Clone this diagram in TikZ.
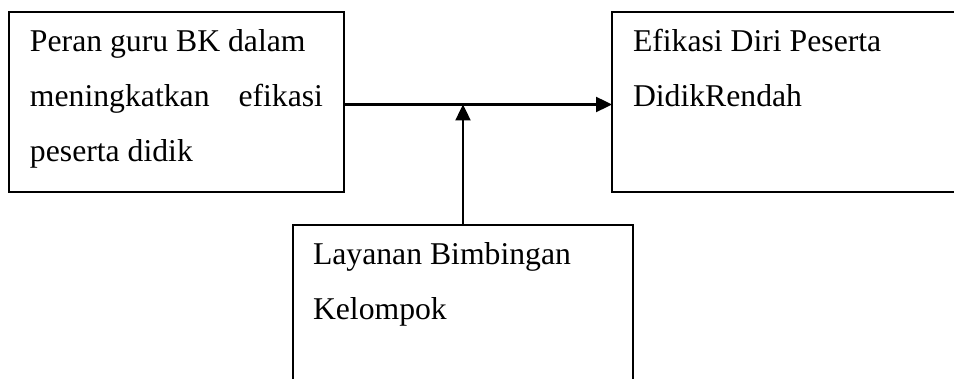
\documentclass[tikz,border=0pt]{standalone}
\usepackage{fontspec}
\setmainfont{Liberation Serif}
\usetikzlibrary{arrows.meta}
\begin{document}
\begin{tikzpicture}[x=1pt,y=-1pt,
  box/.style={draw=black,line width=1.8pt,rectangle,inner sep=0pt,outer sep=0pt,anchor=north west},
  txt/.style={inner sep=0pt,outer sep=0pt,anchor=base west,font=\fontsize{31.7}{38}\selectfont},
  arr/.style={line width=2.4pt,-{Triangle[length=16pt,width=15pt]}}]
\useasboundingbox (0,0) rectangle (954,379);
\clip (0,0) rectangle (954,379);
\fill[white] (0,0) rectangle (954,379);
\node[box,minimum width=335pt,minimum height=180pt] (A) at (9,12) {};
\node[box,minimum width=360pt,minimum height=180pt] (B) at (612,12) {};
\node[box,minimum width=340pt,minimum height=180pt] (C) at (293,225) {};
\node[txt] (a1) at (30,52) {Peran guru BK dalam};
\node[txt] (a2) at (30,107) {\hbox to 293pt{meningkatkan\hfill efikasi}};
\node[txt] (a3) at (30,162) {peserta didik};
\node[txt] (b1) at (633,52) {Efikasi Diri Peserta};
\node[txt] (b2) at (633,107) {DidikRendah};
\node[txt] (c1) at (313,265) {Layanan Bimbingan};
\node[txt] (c2) at (313,320) {Kelompok};
\coordinate (mid) at (463,104.5);
\draw[arr] (A.east |- mid) -- (B.west |- mid);
\draw[arr] (C.north -| mid) -- (mid);
\end{tikzpicture}
\end{document}
